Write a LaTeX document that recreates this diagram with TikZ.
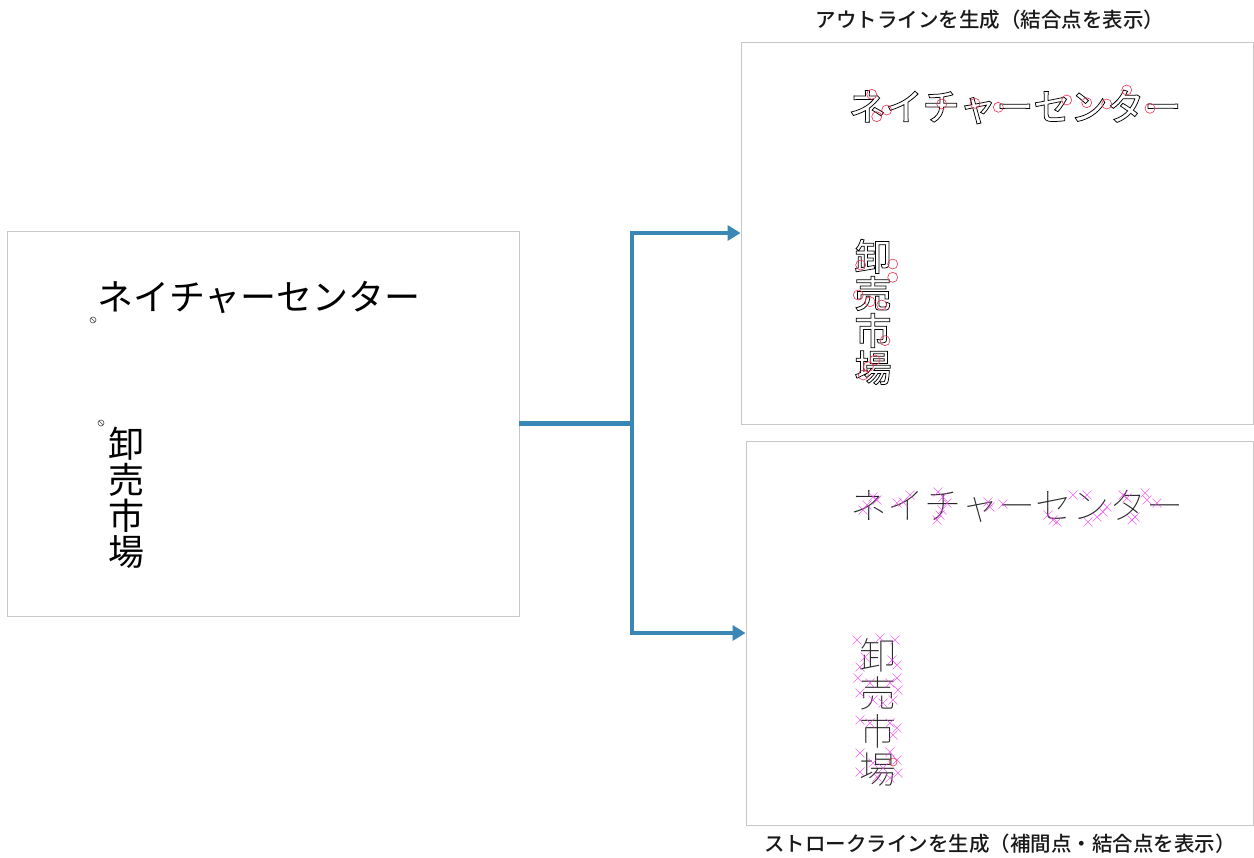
\documentclass[tikz,border=0pt]{standalone}
\usepackage{fontspec}
\usetikzlibrary{arrows.meta}
\newfontfamily\jp{Noto Sans CJK JP}
\newfontfamily\jpmed{Noto Sans CJK JP Medium}
\newfontfamily\jpthin{Noto Sans CJK JP Thin}
\newcommand{\outlined}[1]{\special{pdf:literal direct 1 Tr 0.75 w 0 0 0 RG}#1\special{pdf:literal direct 0 Tr}}
\definecolor{flow}{HTML}{3A86B4}
\definecolor{frame}{HTML}{C8C8C8}
\definecolor{mag}{HTML}{F040F0}
\definecolor{redpt}{HTML}{F03050}
\tikzset{
  panel/.style={draw=frame, line width=0.9pt, fill=white, inner sep=0pt},
  conn/.style={draw=flow, line width=4.5pt, line join=miter, -{Triangle[length=13pt,width=15pt]}},
  bigtxt/.style={font=\jp\fontsize{36}{36}\selectfont, inner sep=0pt},
  outtxt/.style={font=\jpmed\fontsize{37}{37}\selectfont, inner sep=0pt},
  thintxt/.style={font=\jpthin\fontsize{37}{38}\selectfont, inner sep=0pt, text=black!85},
  title/.style={font=\jpmed\fontsize{20.5}{21}\selectfont, inner sep=0pt, text=black!90},
  rcirc/.style={draw=redpt, line width=0.6pt},
  xmark/.style={draw=mag, line width=0.6pt, opacity=0.8}
}
\newcommand{\rc}[2]{\draw[rcirc] (#1,#2) circle (5);}
\newcommand{\xm}[2]{\draw[xmark] (#1-4.5,#2-4.5) -- (#1+4.5,#2+4.5) (#1-4.5,#2+4.5) -- (#1+4.5,#2-4.5);}
\begin{document}
\begin{tikzpicture}[x=1pt,y=-1pt]
\useasboundingbox (0,0) rectangle (1254,858);
\fill[white] (0,0) rectangle (1254,858);

% panels
\node[panel, minimum width=512pt, minimum height=385pt] (L) at (263,423.5) {};
\node[panel, minimum width=512pt, minimum height=382pt] (A) at (997,233) {};
\node[panel, minimum width=507pt, minimum height=384pt] (B) at (999.5,633) {};

% titles
\node[title] (tA) at (990,20) {アウトラインを生成（結合点を表示）};
\node[title] (tB) at (1000,844) {ストロークラインを生成（補間点・結合点を表示）};

% left panel text
\node[bigtxt, anchor=west] (Lh) at (97,297) {ネイチャーセンター};
\node[bigtxt, align=center] (Lv) at (126,498) {卸\\売\\市\\場};
% small anchor marks
\draw[black!70, line width=0.6pt] (93,320) circle (3) (91,318) -- (95,322);
\draw[black!70, line width=0.6pt] (101,423) circle (3) (99,421) -- (103,425);

% outline panel
\node[outtxt] (Ah) at (1015,107) {\outlined{ネイチャーセンター}};
\node[outtxt, align=center] (Av) at (873,312) {\outlined{卸}\\\outlined{売}\\\outlined{市}\\\outlined{場}};
\rc{871.7}{94.3}\rc{886.7}{110}\rc{876.7}{116.7}\rc{941.7}{104}\rc{975}{103.3}
\rc{998.3}{107.3}\rc{1066.7}{100}\rc{1086.7}{102.7}\rc{1106.7}{104}\rc{1126.7}{90}\rc{1150}{108.3}
\rc{860.7}{265}\rc{892.7}{264}\rc{892.7}{277.3}\rc{858.3}{295}\rc{870}{301.7}\rc{881.7}{305}
\rc{885}{340.7}\rc{875}{360}\rc{868.3}{366.7}\rc{863.3}{375}

% stroke panel
\node[thintxt] (Bh) at (1017,506) {ネイチャーセンター};
\node[thintxt, align=center] (Bv) at (878,712) {卸\\売\\市\\場};
\xm{873}{497}\xm{877}{500}\xm{867}{505}\xm{863}{510}
\xm{897}{503}\xm{903}{502}\xm{910}{495}
\xm{938}{492}\xm{943}{497}\xm{947}{503}\xm{942}{510}\xm{940}{515}\xm{937}{520}
\xm{988}{502}\xm{990}{507}\xm{1003}{504}
\xm{1073}{495}\xm{1087}{495}\xm{1048}{515}\xm{1053}{520}\xm{1057}{522}
\xm{1107}{507}\xm{1103}{512}\xm{1097}{517}\xm{1088}{522}
\xm{1123}{495}\xm{1127}{498}\xm{1145}{493}\xm{1147}{500}\xm{1135}{517}\xm{1132}{520}
\xm{1157}{503}
\xm{857}{640}\xm{880}{638}\xm{895}{640}\xm{865}{657}\xm{860}{667}\xm{892}{660}\xm{897}{665}
\xm{858}{678}\xm{870}{683}\xm{890}{683}\xm{897}{678}\xm{860}{693}\xm{873}{700}\xm{883}{703}\xm{893}{700}\xm{898}{690}
\xm{860}{720}\xm{870}{723}\xm{890}{723}\xm{897}{728}\xm{893}{735}
\xm{860}{753}\xm{860}{772}\xm{873}{763}\xm{883}{768}\xm{897}{760}\xm{877}{777}\xm{890}{778}\xm{898}{773}\xm{890}{752}
\draw[rcirc] (893,762) circle (4);

% connectors
\draw[conn] (L.east) -- (632,423.5) coordinate (J) |- (A.west);
\draw[conn] (J) |- (B.west);
\end{tikzpicture}
\end{document}
